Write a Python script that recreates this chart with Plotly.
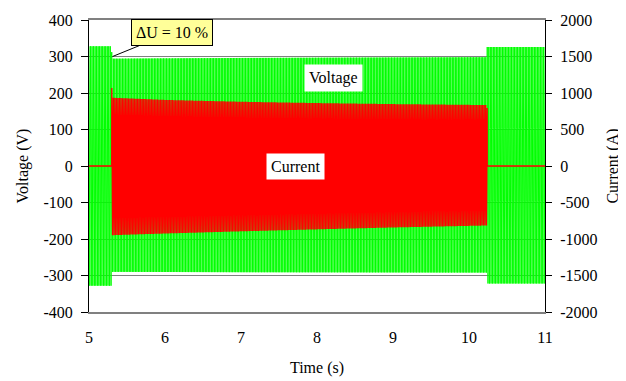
import numpy as np
import plotly.graph_objects as go

# ---- data ----
FREQ_HZ = 50.0
T_START, T_END = 5.0, 11.0
SAG_START, SAG_END = 5.30, 10.24

# voltage peak envelope (V) at given times
v_env_t = [5.00, 5.30, 5.30, 7.00, 10.24, 10.24, 11.00]
v_env_up = [328, 328, 294, 296, 298, 326, 324]
v_env_lo = [-328, -328, -290, -291, -292, -322, -322]

# current peak envelope (A) during the sag
i_env_t = [5.30, 6.00, 7.00, 8.00, 9.00, 10.24]
i_env_up = [935, 905, 880, 862, 848, 835]
i_env_lo = [-948, -925, -895, -868, -842, -815]
i_first_peak = 1070  # inrush spike at the start of the sag

tick_x = [5, 6, 7, 8, 9, 10, 11]
tick_v = [-400, -300, -200, -100, 0, 100, 200, 300, 400]
tick_i = [-2000, -1500, -1000, -500, 0, 500, 1000, 1500, 2000]

# ---- waveforms built from the envelopes ----
fs = 1000.0
t = np.arange(T_START, T_END + 1e-9, 1 / fs)
ph = np.sin(2 * np.pi * FREQ_HZ * (t - SAG_START) + np.pi / 2)

def env(tt, et, ev):
    return np.interp(tt, et, ev)

vu = np.where(t < SAG_START, v_env_up[0], np.where(t < SAG_END, env(t, v_env_t[2:5], v_env_up[2:5]), v_env_up[5]))
vl = np.where(t < SAG_START, v_env_lo[0], np.where(t < SAG_END, env(t, v_env_t[2:5], v_env_lo[2:5]), v_env_lo[5]))
v = (vu + vl) / 2 + (vu - vl) / 2 * ph

iu = env(t, i_env_t, i_env_up)
il = env(t, i_env_t, i_env_lo)
cur = (iu + il) / 2 + (iu - il) / 2 * ph
inside = (t >= SAG_START) & (t < SAG_END)
cur = np.where(inside, cur, 0.0)
k0 = np.argmax(inside)
cur[k0] = i_first_peak

FONT = "Times New Roman, Liberation Serif, serif"
TF = dict(family=FONT, size=16, color="black")

fig = go.Figure()
fig.add_trace(go.Scatter(x=t, y=v, mode="lines", line=dict(color="#00FF00", width=1),
                         yaxis="y", showlegend=False, hoverinfo="skip"))
fig.add_trace(go.Scatter(x=t, y=cur, mode="lines", line=dict(color="#FF0000", width=1.3),
                         yaxis="y2", showlegend=False, hoverinfo="skip"))

fig.update_layout(
    width=618, height=373,
    margin=dict(l=81, r=81, t=12, b=69),
    paper_bgcolor="white", plot_bgcolor="white",
    font=TF,
    xaxis=dict(range=[T_START, T_END], tickvals=tick_x, ticktext=[str(x) for x in tick_x],
               ticks="outside", ticklen=10, tickfont=TF, automargin=False,
               tickcolor="rgba(0,0,0,0)", showgrid=False, zeroline=False,
               showline=True, mirror=True, linecolor="#808080", linewidth=2,
               title=dict(text="Time (s)", font=TF, standoff=17)),
    yaxis=dict(range=[-400, 400], tickvals=tick_v, ticktext=[str(x) for x in tick_v],
               ticks="outside", ticklen=7, tickfont=TF, automargin=False,
               tickcolor="black", ticklabelstandoff=5,
               showgrid=True, gridcolor="#808080", gridwidth=1, zeroline=False,
               showline=True, linecolor="black", linewidth=1,
               title=dict(text="Voltage (V)", font=TF, standoff=10)),
    yaxis2=dict(range=[-2000, 2000], tickvals=tick_i, ticktext=[str(x) for x in tick_i],
                overlaying="y", side="right", automargin=False,
                anchor="x", ticks="outside", ticklen=6, tickcolor="black",
                ticklabelstandoff=5, tickfont=TF,
                showgrid=False, zeroline=False, showline=True, linecolor="black",
                linewidth=1,
                title=dict(text="Current (A)", font=TF, standoff=10)),
    yaxis3=dict(range=[-2000, 2000], tickvals=tick_i, overlaying="y", side="right",
                anchor="x", ticks="inside", ticklen=6, tickcolor="black", automargin=False,
                showticklabels=False, showgrid=False, zeroline=False, showline=False),
)

fig.add_annotation(x=5.31, y=300, xref="x", yref="y", text="ΔU = 10 %",
                   showarrow=True, arrowhead=0, arrowwidth=1, arrowcolor="black",
                   ax=59, ay=-24, bgcolor="#FFFF99", bordercolor="black",
                   borderwidth=1, borderpad=4, font=TF)
fig.add_annotation(x=8.22, y=241, xref="x", yref="y", text="Voltage",
                   showarrow=False, bgcolor="white", borderpad=4, font=TF)
fig.add_annotation(x=7.72, y=0, xref="x", yref="y", text="Current",
                   showarrow=False, bgcolor="white", borderpad=4, font=TF)

fig.write_html("out.html")
